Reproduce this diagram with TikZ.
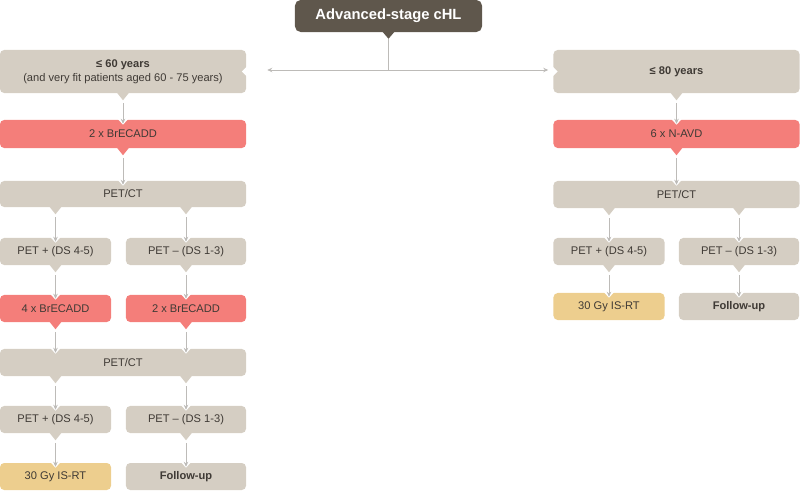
\documentclass[tikz,border=0pt]{standalone}
\usepackage{fontspec}
\setmainfont{Liberation Sans}
\usetikzlibrary{arrows.meta}

\definecolor{boxgray}{HTML}{D5CEC3}
\definecolor{boxred}{HTML}{F47E7A}
\definecolor{boxyellow}{HTML}{EDCE8E}
\definecolor{titlebrown}{HTML}{5F574C}
\definecolor{inkgray}{HTML}{3F3A35}
\definecolor{linegray}{HTML}{BDBBB8}

\tikzset{
  box/.style={fill=boxgray, rounded corners=3pt, align=center, text=inkgray,
    inner sep=0pt, font=\fontsize{7.9}{10}\selectfont},
  wide/.style={box, minimum width=61.5mm, minimum height=#1},
  half/.style={box, minimum width=27.75mm, minimum height=6.75mm},
  halfr/.style={box, minimum width=30mm, minimum height=6.75mm},
  link/.style={draw=linegray, line width=0.5pt, -{Stealth[length=3.5pt,width=3.2pt]}},
}

\begin{document}
\begin{tikzpicture}[x=0.025cm, y=-0.025cm]
	\useasboundingbox (0,0) rectangle (800,491);

	% title
	\node[box, fill=titlebrown, text=white, rounded corners=4pt, minimum width=46.75mm,
	  minimum height=8mm, font=\fontsize{10.5}{12}\selectfont\bfseries] (title) at (388.5,16) {Advanced-stage cHL};
	\coordinate (split) at (388.5,70);

	% left branch
	\node[wide=10.75mm] (age1) at (123,71.5) {\textbf{≤ 60 years}\\(and very fit patients aged 60 - 75 years)};
	\node[wide=7mm, fill=boxred] (chemoL) at (123,134) {2 x BrECADD};
	\node[wide=6.5mm] (petL1) at (123,194) {PET/CT};
	\node[half] (plusL1) at (55.5,251.5) {PET + (DS 4-5)};
	\node[halfr] (minusL1) at (186,251.5) {PET – (DS 1-3)};
	\node[half, fill=boxred] (redL4) at (55.5,308.5) {4 x BrECADD};
	\node[halfr, fill=boxred] (redL2) at (186,308.5) {2 x BrECADD};
	\node[wide=6.75mm] (petL2) at (123,362.5) {PET/CT};
	\node[half] (plusL2) at (55.5,419.5) {PET + (DS 4-5)};
	\node[halfr] (minusL2) at (186,419.5) {PET – (DS 1-3)};
	\node[half, fill=boxyellow] (rtL) at (55.5,476.5) {30 Gy IS-RT};
	\node[halfr] (fuL) at (186,476.5) {\textbf{Follow-up}};

	% right branch
	\node[wide=10.75mm] (age2) at (676.5,71.5) {\textbf{≤ 80 years}};
	\node[wide=7mm, fill=boxred] (chemoR) at (676.5,134) {6 x N-AVD};
	\node[wide=6.75mm] (petR) at (676.5,194.5) {PET/CT};
	\node[half] (plusR) at (609,251.5) {PET + (DS 4-5)};
	\node[halfr] (minusR) at (739,251.5) {PET – (DS 1-3)};
	\node[half, fill=boxyellow] (rtR) at (609,306.5) {30 Gy IS-RT};
	\node[halfr] (fuR) at (739,306.5) {\textbf{Follow-up}};

	% split from the title
	\fill[titlebrown] (title.south) ++(-6,-0.5) -- ++(12,0) -- ++(-6,7) -- cycle;
	\fill[white] (age1.east) ++(0.5,-5) -- ++(0,10) -- ++(-5,-5) -- cycle;
	\fill[white] (age2.west) ++(-0.5,-5) -- ++(0,10) -- ++(5,-5) -- cycle;
	\draw[draw=linegray, line width=0.5pt] ([yshift=-1.75mm]title.south) -- (split);
	\draw[link] (split) -- ([xshift=5.25mm]age1.east |- split);
	\draw[link] (split) -- ([xshift=-1.25mm]age2.west |- split);

	% arrows down: source / target / column / pointer colour
	\foreach \a/\b/\col/\pcol in {age1/chemoL/age1/boxgray, chemoL/petL1/chemoL/boxred,
	  petL1/plusL1/plusL1/boxgray, petL1/minusL1/minusL1/boxgray,
	  plusL1/redL4/plusL1/boxgray, minusL1/redL2/minusL1/boxgray,
	  redL4/petL2/redL4/boxred, redL2/petL2/redL2/boxred,
	  petL2/plusL2/plusL2/boxgray, petL2/minusL2/minusL2/boxgray,
	  plusL2/rtL/plusL2/boxgray, minusL2/fuL/minusL2/boxgray,
	  age2/chemoR/age2/boxgray, chemoR/petR/chemoR/boxred,
	  petR/plusR/plusR/boxgray, petR/minusR/minusR/boxgray,
	  plusR/rtR/plusR/boxgray, minusR/fuR/minusR/boxgray}
	{
	  \fill[\pcol] (\col.center |- \a.south) ++(-6,-0.5) -- ++(12,0) -- ++(-6,7.5) -- cycle;
	  \fill[white] (\col.center |- \b.north) ++(-5,-0.5) -- ++(10,0) -- ++(-5,5.5) -- cycle;
	  \draw[link] ([yshift=-2.5mm]\col.center |- \a.south) -- ([yshift=-1mm]\col.center |- \b.north);
	}
\end{tikzpicture}
\end{document}
